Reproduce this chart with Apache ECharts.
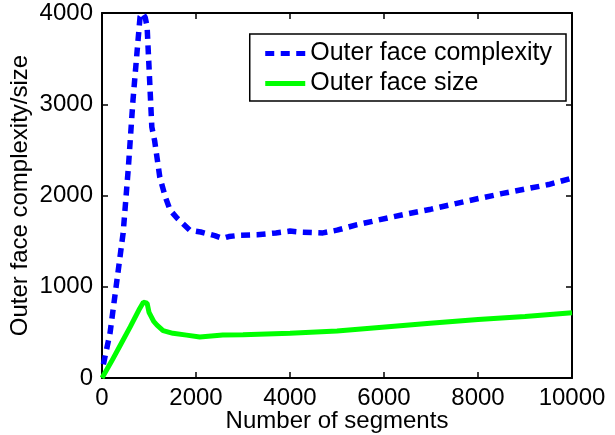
<!DOCTYPE html>
<html><head><meta charset="utf-8">
<script src="https://cdn.jsdelivr.net/npm/echarts@6/dist/echarts.min.js"></script>
<style>html,body{margin:0;padding:0;background:#fff}#c{width:615px;height:435px}</style>
</head><body><div id="c"></div>
<script>
const complexitySegs = [30, 170, 300, 450, 560, 660, 750, 810, 860, 920, 960, 1010, 1060, 1120, 1230, 1350, 1450, 1600, 1870, 2100, 2400, 2570, 2700, 2940, 3300, 3700, 4000, 4200, 4700, 5000, 5430, 6130, 6500, 7000, 7770, 8500, 9000, 9500, 10000];
const complexityVals = [150, 490, 1000, 1590, 2300, 3050, 3600, 3960, 4000, 3950, 3850, 3300, 2750, 2600, 2200, 1980, 1840, 1750, 1620, 1600, 1560, 1530, 1550, 1565, 1570, 1590, 1610, 1600, 1590, 1620, 1680, 1760, 1800, 1850, 1940, 2020, 2070, 2120, 2190];
const sizeSegs = [0, 200, 400, 600, 800, 880, 920, 960, 1000, 1100, 1170, 1300, 1510, 1800, 2080, 2570, 3000, 4000, 5000, 6280, 6980, 8000, 9000, 10000];
const sizeVals = [0, 180, 370, 560, 760, 830, 840, 820, 720, 620, 580, 520, 490, 470, 450, 470, 475, 490, 515, 570, 600, 640, 675, 715];
const xTicks = [0, 2000, 4000, 6000, 8000, 10000];
const yTicks = [0, 1000, 2000, 3000, 4000];

const font = 'Liberation Sans, Arial, sans-serif';
const chart = echarts.init(document.getElementById('c'));
const axisCommon = {
  axisLine: {show: true, onZero: false, lineStyle: {color: '#000', width: 2}},
  axisTick: {show: true, inside: true, length: 6, lineStyle: {color: '#000', width: 1.5}},
  splitLine: {show: false}
};
const fmt = v => String(v);
chart.setOption({
  animation: false,
  grid: {left: 102, right: 43, top: 13, bottom: 57, containLabel: false, outerBoundsMode: 'none'},
  legend: {
    right: 49, top: 34, orient: 'vertical',
    backgroundColor: '#fff', borderColor: '#000', borderWidth: 1.5,
    padding: [7, 14, 5, 13], itemGap: 5, itemWidth: 40, itemHeight: 14,
    itemStyle: {opacity: 0},
    lineStyle: {width: 5},
    textStyle: {fontFamily: font, fontSize: 25, color: '#000'},
    data: ['Outer face complexity', 'Outer face size']
  },
  xAxis: [
    Object.assign({type: 'value', min: xTicks[0], max: xTicks[xTicks.length - 1], interval: xTicks[1] - xTicks[0], position: 'bottom',
      name: 'Number of segments', nameLocation: 'middle', nameGap: 31, nameMoveOverlap: false,
      nameTextStyle: {fontFamily: font, fontSize: 24, color: '#000'},
      axisLabel: {fontFamily: font, fontSize: 24, color: '#000', margin: 8, formatter: fmt}}, axisCommon),
    Object.assign({type: 'value', min: xTicks[0], max: xTicks[xTicks.length - 1], interval: xTicks[1] - xTicks[0], position: 'top',
      axisLabel: {show: false}}, axisCommon)
  ],
  yAxis: [
    Object.assign({type: 'value', min: yTicks[0], max: yTicks[yTicks.length - 1], interval: yTicks[1] - yTicks[0], position: 'left',
      name: 'Outer face complexity/size', nameLocation: 'middle', nameGap: 70, nameMoveOverlap: false,
      nameTextStyle: {fontFamily: font, fontSize: 24, color: '#000'},
      axisLabel: {fontFamily: font, fontSize: 24, color: '#000', margin: 9, formatter: fmt}}, axisCommon),
    Object.assign({type: 'value', min: yTicks[0], max: yTicks[yTicks.length - 1], interval: yTicks[1] - yTicks[0], position: 'right',
      axisLabel: {show: false}}, axisCommon)
  ],
  series: [
    {name: 'Outer face complexity', type: 'line', showSymbol: false, symbol: 'none', clip: true,
     color: '#0000ff', lineStyle: {color: '#0000ff', width: 5.5, type: [9, 6.5]},
     data: complexitySegs.map((s, i) => [s, complexityVals[i]])},
    {name: 'Outer face size', type: 'line', showSymbol: false, symbol: 'none',
     color: '#00ff00', lineStyle: {color: '#00ff00', width: 5},
     data: sizeSegs.map((s, i) => [s, sizeVals[i]])}
  ]
});
</script></body></html>
